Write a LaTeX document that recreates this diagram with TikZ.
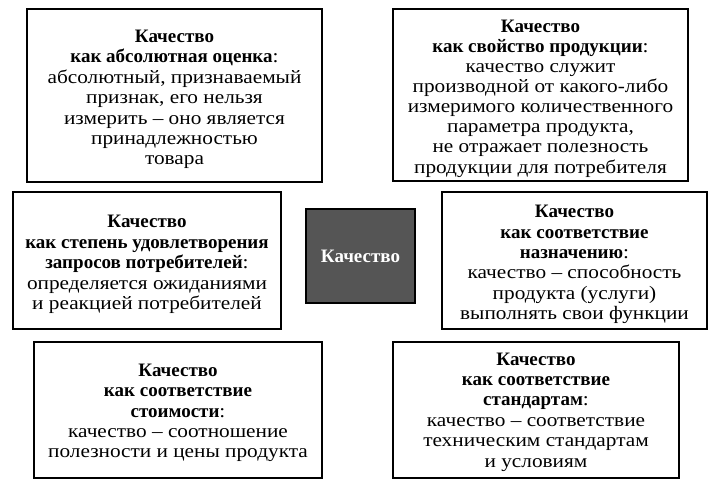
\documentclass[tikz,border=0pt]{standalone}
\usepackage{fontspec}
\setmainfont{Liberation Serif}[UprightFeatures={FakeStretch=1.12}, BoldFeatures={FakeStretch=1.0}]
\definecolor{centerfill}{HTML}{555555}
\begin{document}
\begin{tikzpicture}[x=1pt,y=-1pt,
  frame/.style={draw, line width=1.5pt, inner sep=0pt},
  txt/.style={align=center, inner sep=0pt, font=\fontsize{19}{20.4}\selectfont},
  core/.style={frame, fill=centerfill, text=white, font=\fontsize{19}{20.4}\selectfont\bfseries}]
\useasboundingbox (0,0) rectangle (714,491);
% frames
\node[frame, minimum width=295pt, minimum height=173pt] (abs) at (174.5,95.5) {};
\node[frame, minimum width=295pt, minimum height=172pt] (prop) at (540.5,95) {};
\node[frame, minimum width=268pt, minimum height=137pt] (sat) at (147,260.5) {};
\node[core, minimum width=109pt, minimum height=94pt] (q) at (360.5,256) {Качество};
\node[frame, minimum width=265pt, minimum height=137pt] (purp) at (574.5,260.5) {};
\node[frame, minimum width=288pt, minimum height=136pt] (cost) at (178,410) {};
\node[frame, minimum width=286pt, minimum height=136pt] (std) at (536,410) {};
% texts
\node[txt, yshift=-4pt] (abs-t) at (abs.center)
  {\textbf{Качество}\\ \textbf{как абсолютная оценка}:\\ абсолютный, признаваемый\\ признак, его нельзя\\ измерить -- оно является\\ принадлежностью\\ товара};
\node[txt, yshift=-3.5pt, font=\fontsize{19}{20.1}\selectfont] (prop-t) at (prop.center)
  {\textbf{Качество}\\ \textbf{как свойство продукции}:\\ качество служит\\ производной от какого-либо\\ измеримого количественного\\ параметра продукта,\\ не отражает полезность\\ продукции для потребителя};
\node[txt, yshift=-4pt] (sat-t) at (sat.center)
  {\textbf{Качество}\\ \textbf{как степень удовлетворения}\\ \textbf{запросов потребителей}:\\ определяется ожиданиями\\ и реакцией потребителей};
\node[txt, yshift=-4pt] (purp-t) at (purp.center)
  {\textbf{Качество}\\ \textbf{как соответствие}\\ \textbf{назначению}:\\ качество -- способность\\ продукта (услуги)\\ выполнять свои функции};
\node[txt, yshift=-3pt] (cost-t) at (cost.center)
  {\textbf{Качество}\\ \textbf{как соответствие}\\ \textbf{стоимости}:\\ качество -- соотношение\\ полезности и цены продукта};
\node[txt, yshift=-2pt] (std-t) at (std.center)
  {\textbf{Качество}\\ \textbf{как соответствие}\\ \textbf{стандартам}:\\ качество -- соответствие\\ техническим стандартам\\ и условиям};
\end{tikzpicture}
\end{document}
